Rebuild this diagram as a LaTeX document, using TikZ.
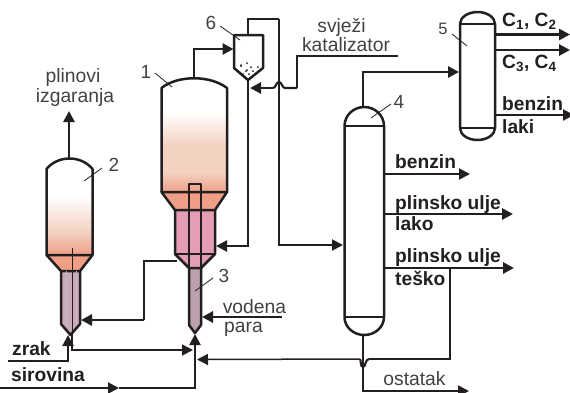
\documentclass[tikz,border=0pt]{standalone}
\usepackage{fontspec}
\setmainfont{Liberation Sans}
\usetikzlibrary{arrows.meta}
\definecolor{ink}{HTML}{231F20}
\definecolor{peachA}{HTML}{F3D2C2}
\definecolor{peachB}{HTML}{EE9F85}
\definecolor{pinkbox}{HTML}{E59DB5}
\definecolor{greytube}{HTML}{BCA2AF}
\definecolor{greytubeB}{HTML}{C9A9BA}
\tikzset{
  x=1pt,y=-1pt,
  wall/.style={draw=ink,line width=2.5pt,line join=round},
  thin pipe/.style={draw=ink,line width=1.5pt,line join=miter},
  pipe/.style={draw=ink,line width=2.1pt,line join=miter},
  thick pipe/.style={draw=ink,line width=2.8pt,line join=miter},
  arrowed/.style={-{Triangle[length=11pt,width=11pt]}},
  leader/.style={draw=ink,line width=0.8pt},
  plain/.style={inner sep=0pt,text=ink!85!white,font=\fontsize{19.3}{20}\selectfont,anchor=base},
  strong/.style={inner sep=0pt,text=ink,font=\fontsize{19.2}{20}\selectfont\bfseries,anchor=base west},
  num/.style={inner sep=0pt,text=ink!85!white,font=\fontsize{19}{20}\selectfont,anchor=base},
}
\begin{document}
\begin{tikzpicture}
\useasboundingbox (0,0) rectangle (570,392);
\clip (0,0) rectangle (570,392);
% coordinates
\coordinate (r1top) at (194,78);
\coordinate (cycin) at (233.5,49);
\coordinate (cycapex) at (248,80);
\coordinate (cyctop) at (248,35);
\coordinate (r1side) at (216,246);
\coordinate (riserb) at (279,19);
\coordinate (c4in) at (343,245);
\coordinate (catend) at (398,56);
\coordinate (catin) at (250,88);
\coordinate (r3cone) at (177,261);
\coordinate (v2side) at (81,320);
\coordinate (v2top) at (69,158);
\coordinate (v2out) at (69,111);
\coordinate (v2apex) at (70.5,335);
\coordinate (r3apex) at (195,334);
\coordinate (c4top) at (363,107);
\coordinate (c5in) at (459,72);
\coordinate (c4bot) at (363,335);
% gradients and fills: vessel 1
\fill[white] (161.5,88) .. controls (178,75) and (210,75) .. (227,88) -- (227,192) -- (161.5,192) -- cycle;
\shade[top color=white,bottom color=peachA] (161.5,112) rectangle (227,145);
\fill[peachA] (161.5,145) rectangle (227,172);
\shade[top color=peachA,bottom color=peachB] (161.5,172) rectangle (227,192);
\fill[peachB] (161.5,192) -- (227,192) -- (215,210) -- (175,210) -- cycle;
\fill[pinkbox] (175,210) rectangle (215,254);
\fill[pinkbox] (175,254) -- (215,254) -- (201,268) -- (189,268) -- cycle;
\fill[greytube] (189,268) -- (201,268) -- (201,325) -- (195,333) -- (189,325) -- cycle;
% vessel 2
\shade[top color=white,bottom color=peachA] (46.5,195) rectangle (92.5,232);
\shade[top color=peachA,bottom color=peachB] (46.5,232) rectangle (92.5,255);
\fill[peachB] (46.5,255) -- (92.5,255) -- (80,271) -- (61,271) -- cycle;
\fill[greytubeB] (61,271) -- (80,271) -- (80,324) -- (70.5,335) -- (61,324) -- cycle;
% vessel 1 outlines
\path[wall] (161.5,192) -- (161.5,88) .. controls (178,75) and (210,75) .. (227,88) -- (227,192);
\path[wall] (161.5,192) -- (227,192) -- (215,210) -- (175,210) -- cycle;
\path[wall] (175,210) -- (175,254) -- (189,268) -- (201,268) -- (215,254) -- (215,210);
\path[wall] (175,254) -- (215,254);
\path[wall] (189,268) -- (189,325) -- (195,333) -- (201,325) -- (201,268);
\path[wall] (189,268) -- (189,184) -- (201,184) -- (201,268);
% vessel 2 outlines
\path[wall] (46.5,255) -- (46.5,169) .. controls (58,155) and (81,155) .. (92.5,169) -- (92.5,255) -- cycle;
\path[wall] (46.5,255) -- (61,271) -- (80,271) -- (92.5,255);
\path[wall] (61,271) -- (61,324) -- (70.5,335) -- (80,324) -- (80,271);
\draw[leader] (72,248) -- (72,335);
\draw[leader,draw=ink!30!white] (66,271) -- (66,326);
\draw[leader,draw=ink!30!white] (76,271) -- (76,326);
% cyclone 6
\path[wall] (234,35) -- (263,35) -- (263,68) -- (248,80) -- (234,68) -- cycle;
\foreach \p/\q in {247/63,241/66,251/67,258/67,247/70,253/71,243/74,249/74,241/65,246/71}
  \fill[ink] (\p,\q) circle (1pt);
% columns
\path[wall] (344.5,126) arc[start angle=180,end angle=0,x radius=19.75pt,y radius=19pt] -- (384,317) arc[start angle=0,end angle=180,x radius=19.75pt,y radius=-18pt] -- cycle;
\path[wall,line width=1.9pt] (344.5,126) -- (384,126) (344.5,317) -- (384,317);
\path[wall] (460,24) arc[start angle=180,end angle=0,x radius=17.5pt,y radius=12pt] -- (495,128) arc[start angle=0,end angle=180,x radius=17.5pt,y radius=-12pt] -- cycle;
\path[wall,line width=1.9pt] (460,24) -- (495,24) (460,128) -- (495,128);
% connectors
\draw[thick pipe,arrowed] (v2top) -- (v2out);
\draw[thick pipe,arrowed] (r1top) |- (cycin);
\draw[pipe,arrowed] (cycapex) |- (r1side);
\draw[pipe] (cyctop) |- (riserb);
\draw[pipe,arrowed] (riserb) |- (c4in);
\coordinate (cat1) at (297,56);
\coordinate (cat2) at (297,88);
\coordinate (hopR) at (285,88);
\coordinate (hopL) at (273,88);
\draw[thin pipe] (catend) -- (cat1) -- (cat2);
\draw[pipe] (cat2) -- (hopR) .. controls (282,88) and (282,82) .. (279,82) .. controls (276,82) and (276,88) .. (hopL);
\draw[thick pipe,arrowed] (hopL) -- (catin);
\coordinate (ret1) at (144,261);
\coordinate (ret2) at (144,320);
\draw[thin pipe] (r3cone) -- (ret1) -- (ret2);
\draw[thick pipe,arrowed] (ret2) -- (v2side);
\coordinate (zrakS) at (8,361);
\coordinate (zrakB) at (68,361);
\coordinate (airA) at (68,335);
\draw[pipe,arrowed] (zrakS) -- (zrakB) -- (airA);
\coordinate (spentA) at (72,350);
\coordinate (spentB) at (193,350);
\draw[thin pipe,arrowed] (v2apex -| spentA) -- (spentA) -- (spentB);
\coordinate (sirS) at (0,388);
\coordinate (sirM) at (119,388);
\coordinate (sirB) at (195,388);
\draw[pipe,arrowed] (sirS) -- (sirM);
\draw[pipe,arrowed] (sirM) -- (sirB) -- (r3apex);
\coordinate (vodS) at (282,317);
\coordinate (vodE) at (202,317);
\draw[thick pipe,arrowed] (vodS) -- (vodE);
\draw[thick pipe,arrowed] (c4top) |- (c5in);
\coordinate (c5a) at (495,34.5);
\coordinate (c5aE) at (570,34.5);
\coordinate (c5b) at (495,50);
\coordinate (c5bE) at (570,50);
\coordinate (c5c) at (495,115);
\coordinate (c5cE) at (574,115);
\draw[thick pipe,arrowed] (c5a) -- (c5aE);
\draw[thick pipe,arrowed] (c5b) -- (c5bE);
\draw[pipe,arrowed] (c5c) -- (c5cE);
\coordinate (c4a) at (384,174);
\coordinate (c4aE) at (470,174);
\coordinate (c4b) at (384,214);
\coordinate (c4bE) at (513,214);
\coordinate (c4c) at (384,268);
\coordinate (c4cE) at (514,268);
\draw[pipe,arrowed] (c4a) -- (c4aE);
\draw[thick pipe,arrowed] (c4b) -- (c4bE);
\draw[thick pipe,arrowed] (c4c) -- (c4cE);
\coordinate (tesB) at (450,268);
\coordinate (tesC) at (450,359);
\coordinate (hop2R) at (369,359);
\coordinate (hop2L) at (360,359);
\coordinate (tesE) at (197,359.5);
\draw[pipe] (tesB) -- (tesC) -- (hop2R);
\draw[pipe] (hop2R) .. controls (365,359) and (366,367) .. (363,367) .. controls (360,367) and (361,359) .. (hop2L);
\draw[thin pipe,arrowed] (hop2L) -- (tesE);
\coordinate (ostB) at (363,391);
\coordinate (ostE) at (469,391);
\draw[pipe,arrowed] (c4bot) -- (ostB) -- (ostE);
% leaders
\coordinate (l1a) at (155,73); \coordinate (l1b) at (172,87);
\coordinate (l2a) at (102,168); \coordinate (l2b) at (84,181);
\coordinate (l3a) at (213,278); \coordinate (l3b) at (195,291);
\coordinate (l4a) at (391,104); \coordinate (l4b) at (371,118);
\coordinate (l5a) at (452,34); \coordinate (l5b) at (467,46);
\coordinate (l6a) at (220,26); \coordinate (l6b) at (240,40);
\foreach \k in {1,...,6} \draw[leader] (l\k a) -- (l\k b);
% labels
\node[num] (n1) at (146,78) {1};
\node[num] (n2) at (114,171) {2};
\node[num] (n3) at (224,282) {3};
\node[num] (n4) at (399,108) {4};
\node[num,font=\fontsize{16.5}{17}\selectfont] (n5) at (443,34) {5};
\node[num] (n6) at (211,29) {6};
\node[plain] (tplin) at (73,82) {plinovi};
\node[plain] (tizg) at (75,102) {izgaranja};
\node[plain] (tsvj) at (341.5,32) {svježi};
\node[plain] (tkat) at (346,51) {katalizator};
\node[plain] (tvod) at (254.5,313) {vodena};
\node[plain] (tpar) at (243.5,332) {para};
\node[plain] (tost) at (414.5,385) {ostatak};
\node[strong] (tzrak) at (12,355) {zrak};
\node[strong] (tsir) at (11,381) {sirovina};
\node[strong] (tc12) at (502,26) {C\textsubscript{1}, C\textsubscript{2}};
\node[strong] (tc34) at (502,68) {C\textsubscript{3}, C\textsubscript{4}};
\node[strong] (tben) at (502,110) {benzin};
\node[strong] (tlak) at (502,133) {laki};
\node[strong] (tb) at (395,168) {benzin};
\node[strong] (tp1) at (395,209) {plinsko ulje};
\node[strong] (tl1) at (395,230) {lako};
\node[strong] (tp2) at (395,262) {plinsko ulje};
\node[strong] (tl2) at (395,285) {teško};
\end{tikzpicture}
\end{document}
